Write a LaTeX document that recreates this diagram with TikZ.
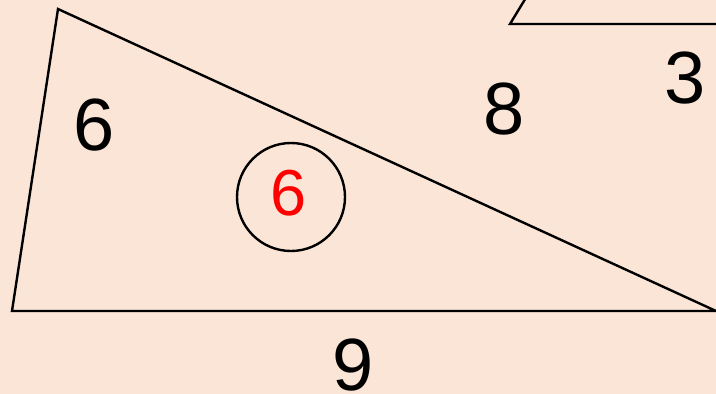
\documentclass[tikz,border=0pt]{standalone}
\usepackage{fontspec}
\setmainfont{Liberation Sans}
\definecolor{bg}{HTML}{FBE5D6}
\begin{document}
\begin{tikzpicture}[x=1pt,y=-1pt,line width=2.4pt,
  lbl/.style={anchor=base,inner sep=0pt,font=\fontsize{74}{74}\selectfont},
  rlbl/.style={anchor=base,inner sep=0pt,text=red,font=\fontsize{65}{65}\selectfont}]
\fill[bg] (0,0) rectangle (716,394);
\useasboundingbox (0,0) rectangle (716,394);
\coordinate (A) at (58,9);
\coordinate (B) at (12,311);
\coordinate (C) at (716,311);
\draw[line join=miter] (A) -- (B) -- (C) -- cycle;
\coordinate (D) at (510,24);
\coordinate (E) at (527,-4);
\coordinate (F) at (720,24);
\draw (E) -- (D) -- (F);
\node[draw,circle,minimum size=108pt,inner sep=0pt] (circ) at (291,197) {};
\node[rlbl] (r6) at (289,215) {6};
\node[lbl] (l6) at (94,150) {6};
\node[lbl] (l8) at (504,134) {8};
\node[lbl] (l3) at (685,103) {3};
\node[lbl] (l9) at (353,390) {9};
\end{tikzpicture}
\end{document}
